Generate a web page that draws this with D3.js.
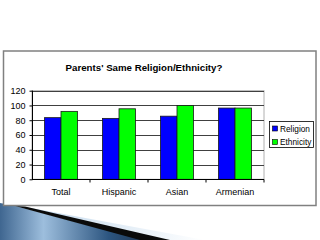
<!DOCTYPE html>
<html><head><meta charset="utf-8">
<script src="https://cdn.jsdelivr.net/npm/d3@7"></script>
<style>body{margin:0;background:#fff}svg{display:block}text{font-family:"Liberation Sans",Arial,sans-serif}</style>
</head><body>
<svg id="c" width="320" height="240"></svg>
<script>
const categories = ["Total", "Hispanic", "Asian", "Armenian"];
const seriesNames = ["Religion", "Ethnicity"];
const religion = [83.5, 82.5, 85.5, 96.5];
const ethnicity = [92, 95.5, 100, 96.5];
const yTicks = [0, 20, 40, 60, 80, 100, 120];
const colors = ["#0000ff", "#00ff00"];
const title = "Parents' Same Religion/Ethnicity?";

(function(){
const svg = d3.select("#c");

// slide decoration (bottom-left swoosh)
const defs = svg.append("defs");
const g1 = defs.append("linearGradient").attr("id","sw").attr("x1","0").attr("x2","1").attr("y1","0").attr("y2","0");
g1.append("stop").attr("offset","0").attr("stop-color","#3f6690");
g1.append("stop").attr("offset","0.3").attr("stop-color","#9dbedd");
g1.append("stop").attr("offset","0.75").attr("stop-color","#2c5580");
g1.append("stop").attr("offset","1").attr("stop-color","#1f3550");
const g2 = defs.append("linearGradient").attr("id","sw2").attr("x1","0").attr("x2","1").attr("y1","0").attr("y2","0");
g2.append("stop").attr("offset","0").attr("stop-color","#b9d3ea");
g2.append("stop").attr("offset","1").attr("stop-color","#ffffff");
svg.append("path").attr("d","M0,203 L20,206 L205,240 L140,240 Z").attr("fill","url(#sw2)");
svg.append("path").attr("d","M0,203 L15,206 L145,240 L0,240 Z").attr("fill","url(#sw)");
svg.append("path").attr("d","M15,206 L25,206.5 L170,240 L140,240 Z").attr("fill","#0a0a0a");

// chart frame
svg.append("rect").attr("x",3.5).attr("y",51).attr("width",312.5).attr("height",154.5)
  .attr("fill","#fff").attr("stroke","#808080").attr("stroke-width",1.5);

svg.append("text").attr("x",144).attr("y",71).attr("text-anchor","middle")
  .attr("font-size",9.7).attr("font-weight","bold").attr("fill","#000").text(title);

const pL = 32, pR = 264, pT = 90.7, pB = 179.3;
const y = d3.scaleLinear().domain([0,120]).range([pB, pT]);
const x = d3.scaleBand().domain(categories).range([pL, pR]).paddingInner(0).paddingOuter(0);
const groupW = 33;
const xs = d3.scaleBand().domain(seriesNames).range([0, groupW]);

// plot border
svg.append("rect").attr("x",pL).attr("y",pT).attr("width",pR-pL).attr("height",pB-pT)
  .attr("fill","#fff").attr("stroke","#b0b0b0").attr("stroke-width",1);

// gridlines
svg.append("g").selectAll("line").data(yTicks.filter(d=>d>0)).join("line")
  .attr("x1",pL).attr("x2",pR).attr("y1",d=>Math.round(y(d))+0.5).attr("y2",d=>Math.round(y(d))+0.5)
  .attr("stroke","#404040").attr("stroke-width",1);

// bars
const data = [religion, ethnicity];
const gBars = svg.append("g");
categories.forEach((c,i)=>{
  seriesNames.forEach((s,j)=>{
    const v = data[j][i];
    gBars.append("rect")
      .attr("x", x(c) + (x.bandwidth()-groupW)/2 + xs(s))
      .attr("y", y(v))
      .attr("width", xs.bandwidth())
      .attr("height", y(0)-y(v))
      .attr("fill", colors[j]).attr("stroke","#1a1a1a").attr("stroke-width",0.8);
  });
});

// y axis
const ya = svg.append("g").attr("transform",`translate(${pL+0.5},0)`)
  .call(d3.axisLeft(y).tickValues(yTicks).tickSize(3).tickPadding(4));
ya.selectAll("text").attr("font-size",9).attr("fill","#000").style("font-family","Liberation Sans, Arial, sans-serif");
ya.selectAll("line,path").attr("stroke","#000");
ya.select("path").attr("d",`M0,${pT}V${pB}`);

// x axis
const xa = svg.append("g").attr("transform",`translate(0,${Math.round(pB)+0.5})`);
xa.append("line").attr("x1",pL).attr("x2",pR).attr("stroke","#000");
xa.selectAll("line.t").data(categories).join("line").attr("class","t")
  .attr("x1",d=>x(d)+x.bandwidth()).attr("x2",d=>x(d)+x.bandwidth()).attr("y1",0).attr("y2",3).attr("stroke","#000");
xa.selectAll("text").data(categories).join("text")
  .attr("x",d=>x(d)+x.bandwidth()/2).attr("y",15).attr("text-anchor","middle")
  .attr("font-size",9).attr("fill","#000").text(d=>d);

// legend
const lg = svg.append("g");
lg.append("rect").attr("x",269.5).attr("y",121.5).attr("width",44).attr("height",26)
  .attr("fill","#fff").attr("stroke","#000").attr("stroke-width",0.8);
seriesNames.forEach((s,j)=>{
  const yy = 128.5 + j*13.5;
  lg.append("rect").attr("x",272.5).attr("y",yy-2.5).attr("width",5).attr("height",5)
    .attr("fill",colors[j]).attr("stroke","#000").attr("stroke-width",0.6);
  lg.append("text").attr("x",280).attr("y",yy+3).attr("font-size",8.3).attr("fill","#000").text(s);
});
})();
</script>
</body></html>
